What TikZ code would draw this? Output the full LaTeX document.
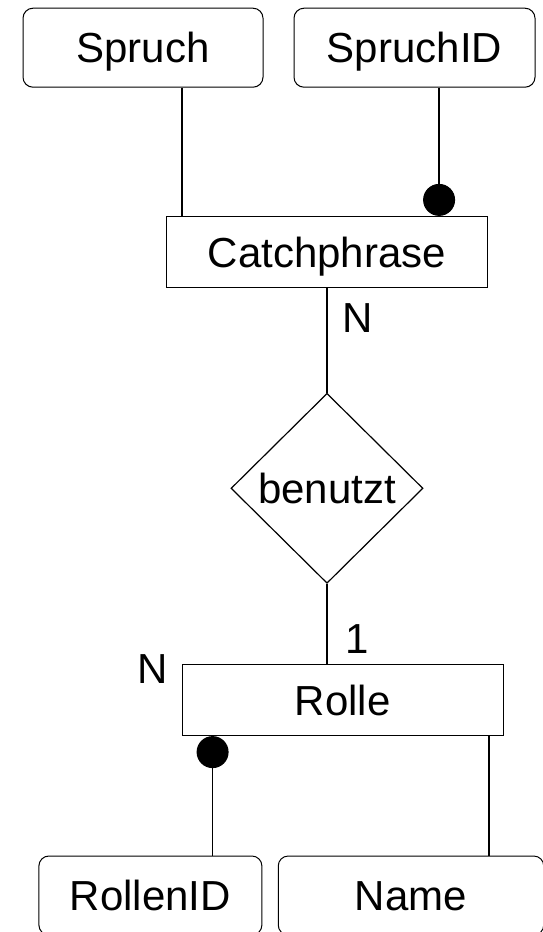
\documentclass[tikz,border=0pt]{standalone}
\usepackage{fontspec}
\setmainfont{Liberation Sans}
\usetikzlibrary{shapes.geometric}
\usetikzlibrary{arrows.meta}
\tikzset{
    erfont/.style={font=\fontsize{42pt}{50pt}\selectfont, text height=30pt, text depth=0pt},
    attribute/.style={draw, erfont, rounded corners=10pt, line width=1pt, minimum height=79pt, inner sep=0pt},
    entity/.style={draw, erfont, rectangle, line width=1.2pt, minimum width=321pt, minimum height=71pt, inner sep=0pt},
    relation/.style={draw, erfont, diamond, line width=1.2pt, minimum width=192pt, minimum height=190pt, inner sep=0pt},
    card/.style={erfont, inner sep=0pt},
    link/.style={line width=2pt},
    keylink/.style={line width=1.3pt, -{Circle[length=32pt]}}
}

\begin{document}
\begin{tikzpicture}[x=1pt, y=-1pt]
    \useasboundingbox (0,0) rectangle (543,932);

    \node[attribute, minimum width=240pt] (SPRUCH) at (143,47.7) {Spruch};
    \node[attribute, minimum width=241pt] (SPRUCHID) at (414.5,47.7) {SpruchID};

    \node[entity] (CATCH) at (327,252) {Catchphrase};
    \node[relation] (BENUTZT) at (327,488.3) {benutzt};
    \node[entity] (ROLLE) at (342.7,700) {Rolle};

    \node[attribute, minimum width=223pt] (ROLLENID) at (150.4,895.5) {RollenID};
    \node[attribute, minimum width=265.5pt] (NAME) at (411,895.5) {Name};

    \node[card] (NCATCH) at (358,317) {N};
    \node[card] (ONE) at (357,638) {1};
    \node[card] (NROLLE) at (153,668) {N};

    \draw[link] ([xshift=16.3pt]CATCH.north west |- SPRUCH.south) -- ([xshift=16.3pt]CATCH.north west);
    \draw[keylink] ([xshift=-49pt]CATCH.north east |- SPRUCHID.south) -- ([xshift=-49pt]CATCH.north east);

    \draw[link] (CATCH.south) -- (BENUTZT.north);
    \draw[link] (BENUTZT.south) -- (BENUTZT.south |- ROLLE.north);

    \draw[keylink] ([xshift=31pt]ROLLE.south west |- ROLLENID.north) -- ([xshift=31pt]ROLLE.south west);
    \draw[link] ([xshift=-15.3pt]ROLLE.south east) -- ([xshift=-15.3pt]ROLLE.south east |- NAME.north);
\end{tikzpicture}
\end{document}
